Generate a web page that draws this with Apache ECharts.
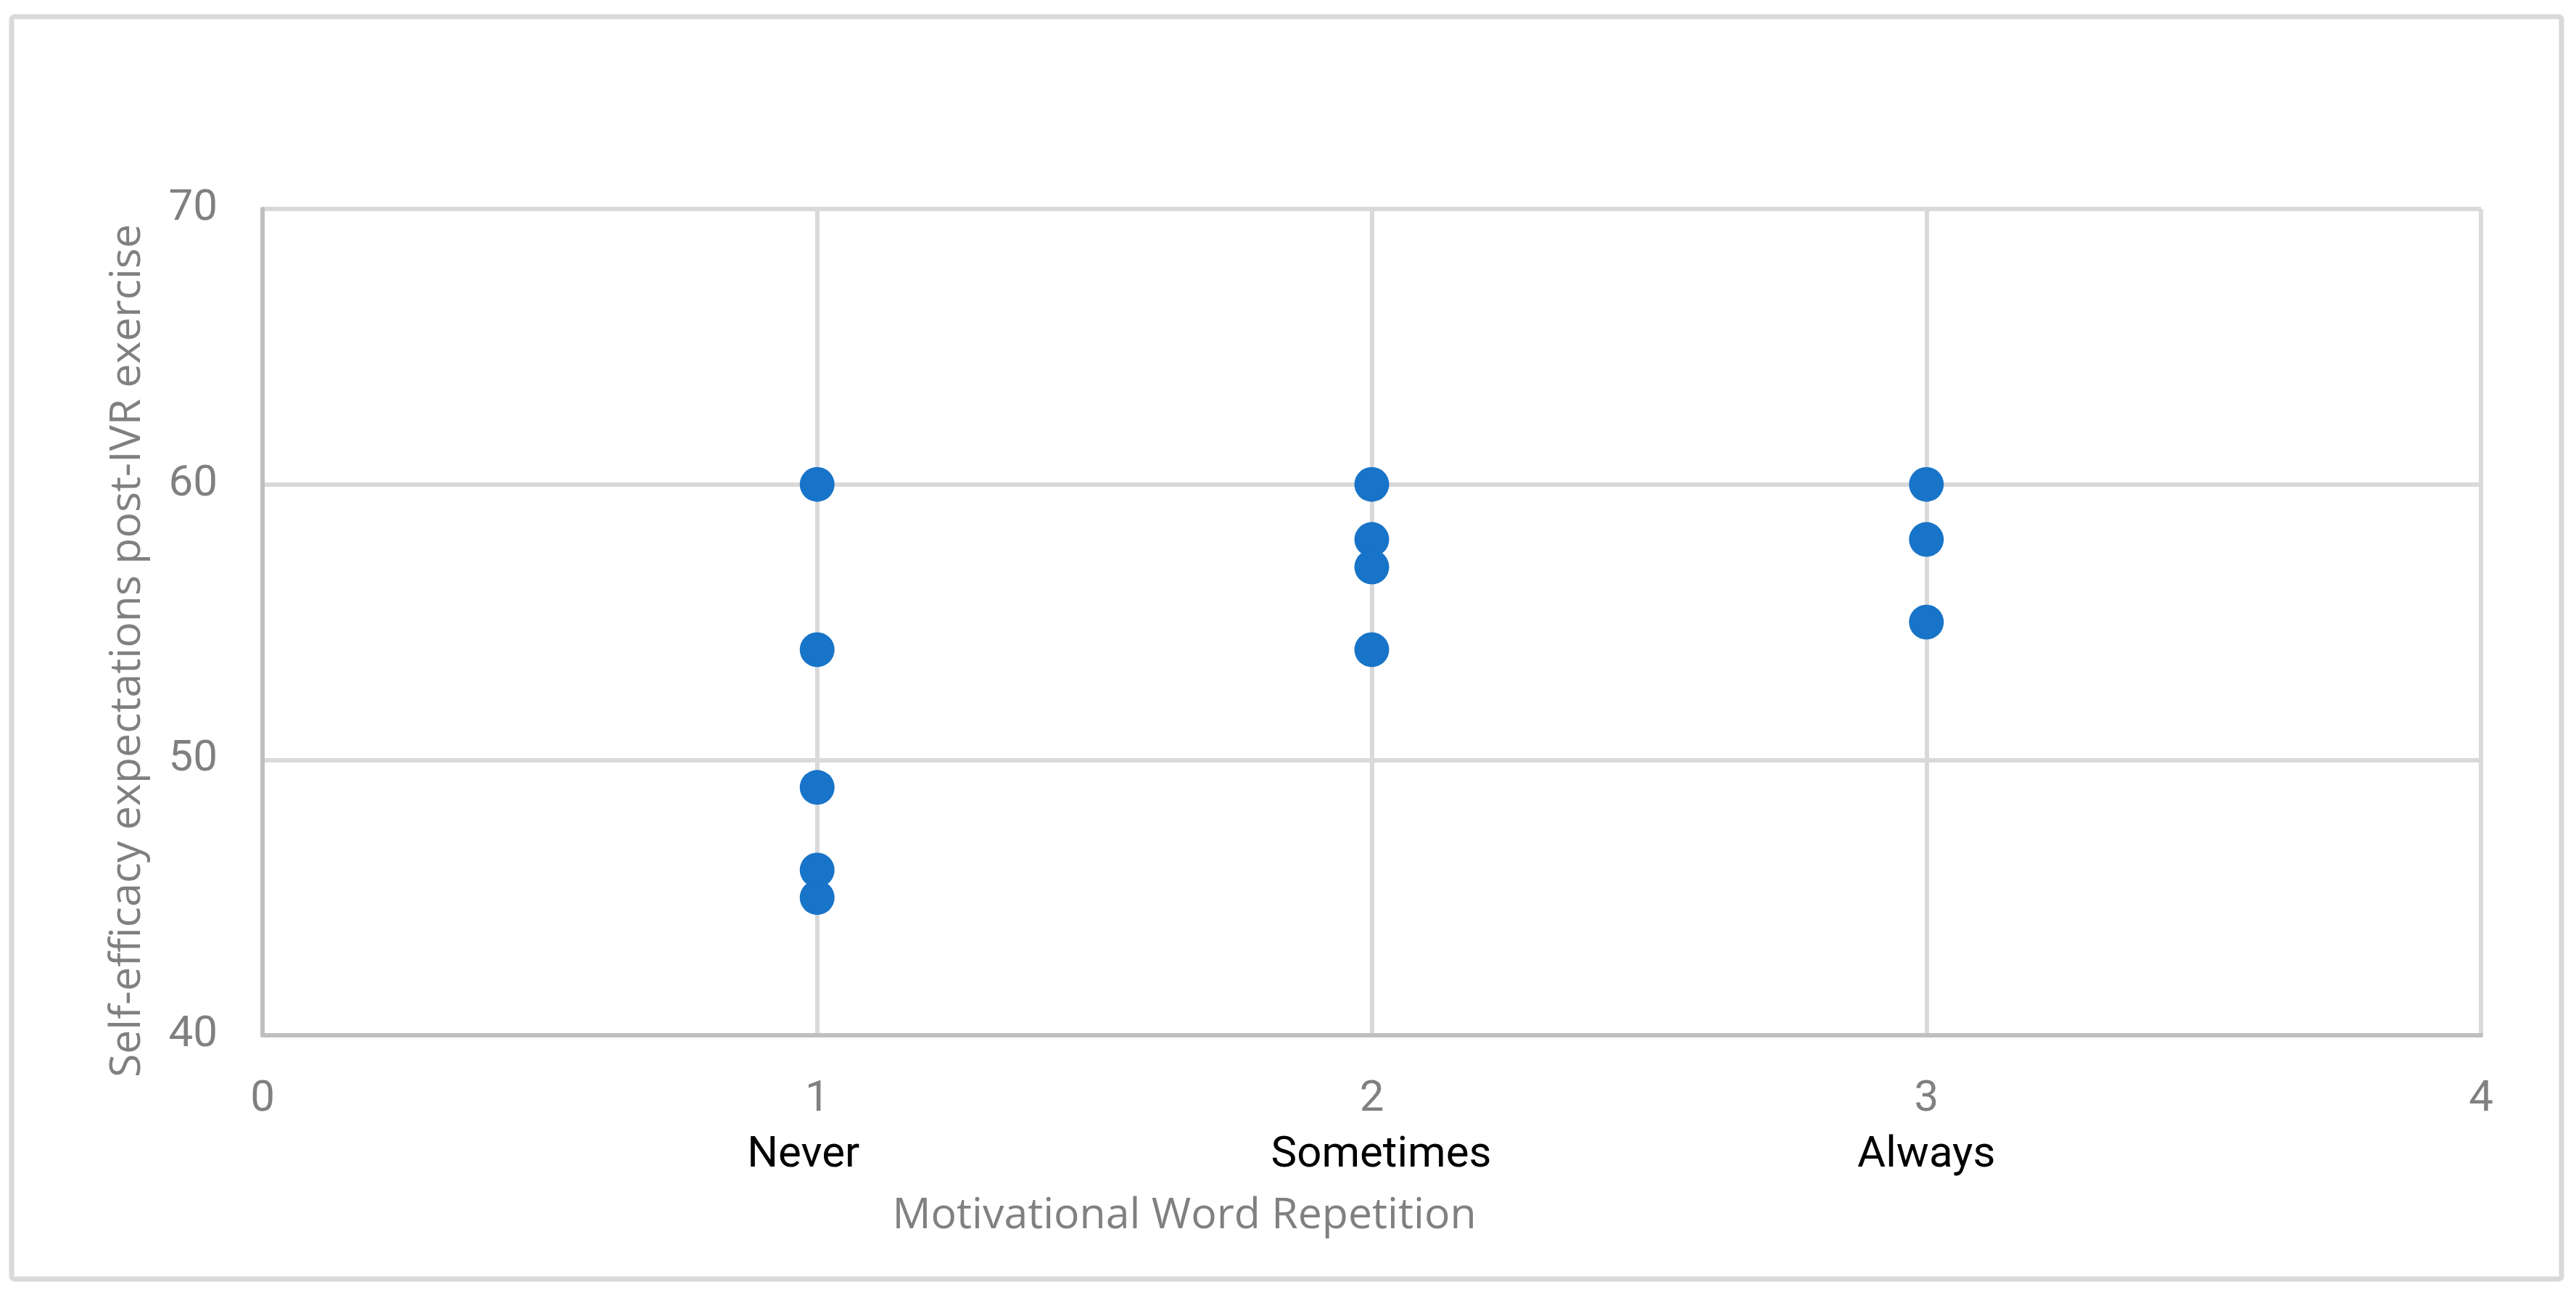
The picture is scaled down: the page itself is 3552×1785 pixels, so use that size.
<!DOCTYPE html>
<html>
<head>
<meta charset="utf-8">
<script src="https://cdn.jsdelivr.net/npm/echarts@6/dist/echarts.min.js"></script>
<style>
html,body{margin:0;padding:0;background:#fff;}
#chart{width:3552px;height:1785px;}
</style>
</head>
<body>
<div id="chart"></div>
<script>
// Data
const xCategories = {1: 'Never', 2: 'Sometimes', 3: 'Always'};
const neverValues = [60, 54, 49, 46, 45];
const sometimesValues = [60, 58, 57, 54];
const alwaysValues = [60, 58, 55];
const xTicks = [0, 1, 2, 3, 4];
const yTicks = [40, 50, 60, 70];
const xTitle = 'Motivational Word Repetition';
const yTitle = 'Self-efficacy expectations post-IVR exercise';

const points = [];
neverValues.forEach(v => points.push([1, v]));
sometimesValues.forEach(v => points.push([2, v]));
alwaysValues.forEach(v => points.push([3, v]));

const chart = echarts.init(document.getElementById('chart'), null, {renderer: 'canvas'});
const tickFont = '"Roboto", "Open Sans", sans-serif';
const titleFont = '"Open Sans", sans-serif';
const catBase = {fontFamily: tickFont, fontSize: 60, color: '#000000', lineHeight: 77, align: 'center'};

chart.setOption({
  backgroundColor: '#ffffff',
  animation: false,
  grid: {left: 362, right: 131, top: 288, bottom: 358, containLabel: false},
  xAxis: {
    type: 'value',
    min: xTicks[0], max: xTicks[xTicks.length - 1], interval: 1,
    axisLine: {show: true, lineStyle: {color: '#bfbfbf', width: 6}},
    axisTick: {show: false},
    splitLine: {show: true, lineStyle: {color: '#d9d9d9', width: 6}},
    axisLabel: {
      margin: 50,
      formatter: function (v) {
        const c = xCategories[v];
        return '{t|' + v + '}\n{c' + v + '|' + (c ? c : ' ') + '}';
      },
      rich: {
        t: {fontFamily: tickFont, fontSize: 60, color: '#808080', lineHeight: 77, align: 'center'},
        c0: Object.assign({}, catBase),
        c1: Object.assign({}, catBase, {padding: [0, 38, 0, 0]}),
        c2: Object.assign({}, catBase, {padding: [0, 0, 0, 26]}),
        c3: Object.assign({}, catBase),
        c4: Object.assign({}, catBase)
      }
    }
  },
  yAxis: {
    type: 'value',
    min: yTicks[0], max: yTicks[yTicks.length - 1], interval: 10,
    axisLine: {show: true, lineStyle: {color: '#bfbfbf', width: 6}},
    axisTick: {show: false},
    splitLine: {show: true, lineStyle: {color: '#d9d9d9', width: 6}},
    axisLabel: {margin: 62, fontFamily: tickFont, fontSize: 60, color: '#808080'}
  },
  graphic: [
    {
      type: 'rect', z: -10, silent: true,
      shape: {x: 16, y: 23, width: 3516, height: 1740, r: 4},
      style: {fill: null, stroke: '#d9d9d9', lineWidth: 7}
    },
    {
      type: 'text', silent: true,
      x: 1633, y: 1676,
      style: {text: xTitle, fontFamily: titleFont, fontSize: 59, fill: '#808080', align: 'center', verticalAlign: 'middle'}
    },
    {
      type: 'text', silent: true,
      x: 176, y: 897, rotation: Math.PI / 2,
      style: {text: yTitle, fontFamily: titleFont, fontSize: 59, fill: '#808080', align: 'center', verticalAlign: 'middle'}
    }
  ],
  series: [{
    type: 'scatter',
    data: points,
    symbol: 'circle',
    symbolSize: 48,
    itemStyle: {color: '#1874c8', opacity: 1},
    z: 5
  }]
});
</script>
</body>
</html>
